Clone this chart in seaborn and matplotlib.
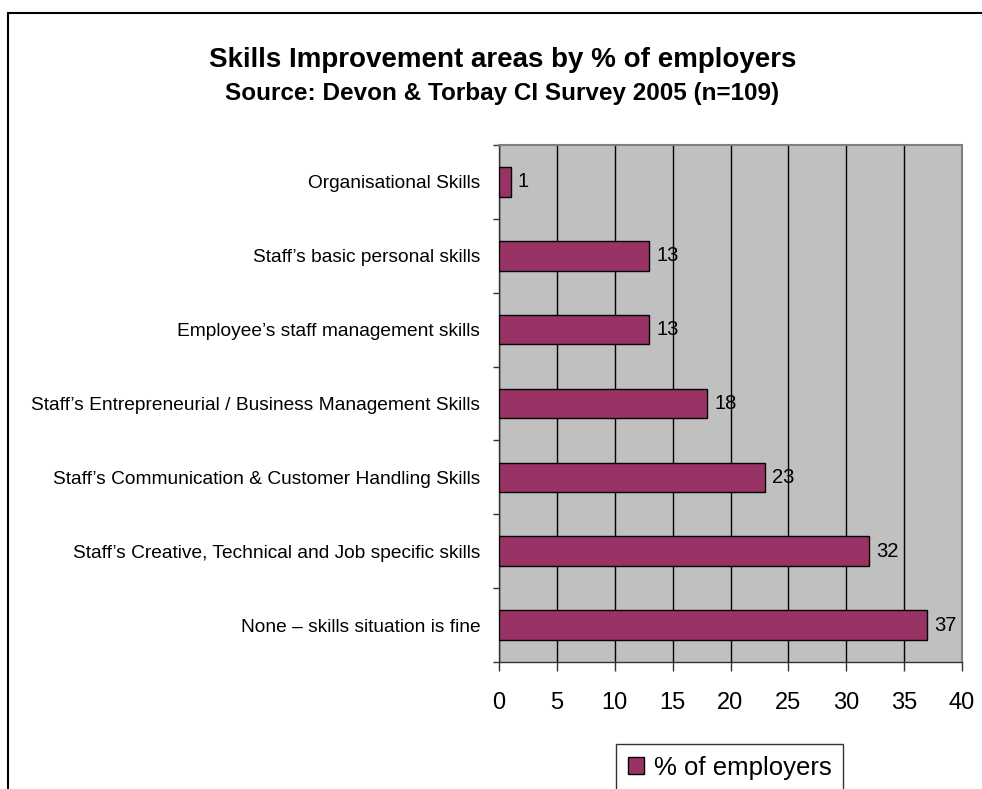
import matplotlib
matplotlib.use("Agg")
import matplotlib.pyplot as plt
from matplotlib.patches import Rectangle
from matplotlib.ticker import FixedLocator
import seaborn as sns
import pandas as pd

# Survey results: share of employers naming each skills improvement area
areas = [
    "Organisational Skills",
    "Staff\u2019s basic personal skills",
    "Employee\u2019s staff management skills",
    "Staff\u2019s Entrepreneurial / Business Management Skills",
    "Staff\u2019s Communication & Customer Handling Skills",
    "Staff\u2019s Creative, Technical and Job specific skills",
    "None \u2013 skills situation is fine",
]
pct_employers = [1, 13, 13, 18, 23, 32, 37]
x_ticks = [0, 5, 10, 15, 20, 25, 30, 35, 40]
series_name = "% of employers"
title = "Skills Improvement areas by % of employers"
subtitle = "Source: Devon & Torbay CI Survey 2005 (n=109)"

df = pd.DataFrame({"area": areas, "pct": pct_employers})

sns.set_theme(style="white")
plt.rcParams["font.family"] = ["Liberation Sans", "DejaVu Sans"]
plt.rcParams["text.color"] = "black"
plt.rcParams["xtick.labelcolor"] = "black"
plt.rcParams["ytick.labelcolor"] = "black"

W, H = 982, 789
fig = plt.figure(figsize=(W / 100, H / 100), dpi=100)
fig.patch.set_facecolor("white")

# plot area in pixel coordinates
left, right, top, bottom = 499, 962, 145, 662
ax = fig.add_axes([left / W, 1 - bottom / H, (right - left) / W, (bottom - top) / H])
ax.set_facecolor("#C0C0C0")

bar_color = "#993366"
sns.barplot(data=df, x="pct", y="area", color=bar_color, saturation=1,
            width=0.4, edgecolor="black", linewidth=1.0, ax=ax, zorder=3)

ax.set_xlim(0, 40)
ax.set_ylim(len(areas) - 0.5, -0.5)
ax.set_xlabel("")
ax.set_ylabel("")

# vertical gridlines
ax.xaxis.set_major_locator(FixedLocator(x_ticks))
ax.grid(axis="x", color="black", linewidth=1.0, zorder=1)
ax.grid(axis="y", visible=False)
ax.set_axisbelow(True)

ax.set_xticks(x_ticks)
ax.set_xticklabels([str(t) for t in x_ticks], fontsize=17, color="black")
ax.tick_params(axis="x", direction="out", length=6.5, width=1, color="#333333",
               pad=15, bottom=True)

# category labels at bar centres; tick marks between categories
ax.tick_params(axis="y", which="major", length=0, pad=13.5, labelsize=13.8,
               labelcolor="black")
ax.yaxis.set_minor_locator(FixedLocator([i - 0.5 for i in range(len(areas) + 1)]))
ax.tick_params(axis="y", which="minor", direction="out", length=4.5, width=1,
               color="#333333", left=True)

for side in ["left", "bottom"]:
    ax.spines[side].set_color("#333333")
    ax.spines[side].set_linewidth(1.0)
for side in ["top", "right"]:
    ax.spines[side].set_color("#808080")
    ax.spines[side].set_linewidth(1.5)

# value labels
for cont in ax.containers:
    ax.bar_label(cont, labels=[str(v) for v in pct_employers], padding=5,
                 fontsize=14.5, color="black")

# titles
fig.text(503 / W, 1 - 67 / H, title, ha="center", va="baseline",
         fontsize=20, fontweight="bold", color="black")
fig.text(502 / W, 1 - 100 / H, subtitle, ha="center", va="baseline",
         fontsize=17.5, fontweight="bold", color="black")

# legend below the axis
handle = Rectangle((0, 0), 1, 1, facecolor=bar_color, edgecolor="black", linewidth=1)
leg = fig.legend([handle], [series_name], loc="upper center",
                 bbox_to_anchor=(729.5 / W, 1 - 744 / H), fontsize=18.5,
                 frameon=True, fancybox=False, borderpad=0.45,
                 handlelength=0.62, handleheight=0.62, handletextpad=0.39,
                 borderaxespad=0, labelcolor="black")
leg.get_frame().set_edgecolor("black")
leg.get_frame().set_linewidth(1.0)

# chart border
fig.patches.append(Rectangle((8 / W, -0.1), 1.2, 1.1 - 13 / H,
                             transform=fig.transFigure, fill=False,
                             edgecolor="black", linewidth=1.5))

fig.savefig("out.png", dpi=100)
